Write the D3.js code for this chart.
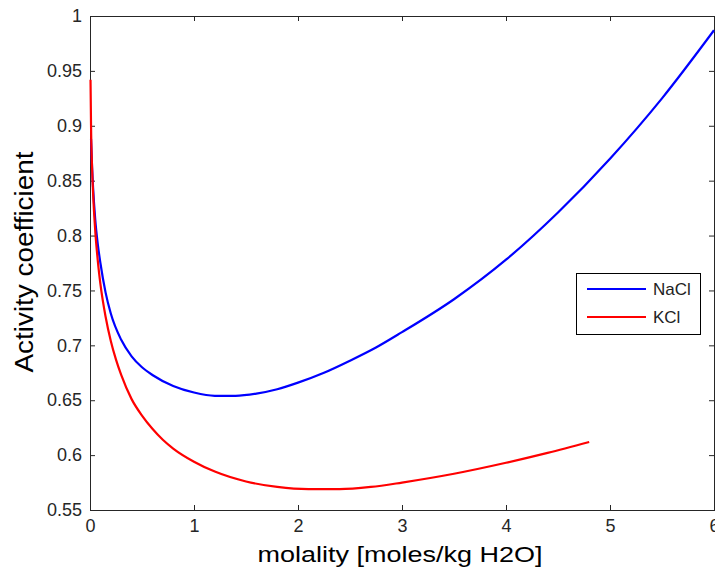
<!DOCTYPE html>
<html>
<head>
<meta charset="utf-8">
<script src="https://cdn.jsdelivr.net/npm/d3@7"></script>
<style>
  body { margin: 0; background: #fff; }
  svg { display: block; font-family: "Liberation Sans", Arial, sans-serif; }
</style>
</head>
<body>
<svg width="715" height="569"></svg>
<script>
// molality values (moles/kg H2O) and activity coefficients
var naclMolality = [0.01, 0.02, 0.03, 0.05, 0.075, 0.1, 0.15, 0.2, 0.3, 0.4, 0.5, 0.6, 0.8, 1.0, 1.2, 1.4, 1.6, 1.8, 2.0, 2.25, 2.5, 2.75, 3.0, 3.5, 4.0, 4.5, 5.0, 5.5, 6.0]
var naclGamma = [0.888, 0.862, 0.843, 0.815, 0.792, 0.775, 0.748, 0.729, 0.705, 0.690, 0.680, 0.673, 0.663, 0.657, 0.654, 0.654, 0.656, 0.660, 0.666, 0.675, 0.686, 0.698, 0.712, 0.742, 0.778, 0.821, 0.870, 0.925, 0.987]

var kclMolality = [0.005, 0.01, 0.02, 0.03, 0.05, 0.075, 0.1, 0.15, 0.2, 0.25, 0.3, 0.4, 0.5, 0.6, 0.7, 0.8, 1.0, 1.2, 1.5, 1.8, 2.1, 2.4, 2.7, 3.0, 3.5, 4.0, 4.4, 4.8]
var kclGamma = [0.942, 0.90, 0.862, 0.838, 0.805, 0.777, 0.756, 0.726, 0.704, 0.687, 0.673, 0.651, 0.636, 0.624, 0.614, 0.606, 0.594, 0.585, 0.576, 0.571, 0.569, 0.569, 0.571, 0.575, 0.583, 0.593, 0.602, 0.612]

var seriesNames = ["NaCl", "KCl"]
var seriesColors = ["#0000ff", "#ff0000"]

var xTicks = [0, 1, 2, 3, 4, 5, 6]
var yTicks = [0.55, 0.6, 0.65, 0.7, 0.75, 0.8, 0.85, 0.9, 0.95, 1]

// plot box edges (window.top is taken, so prefixed names)
var boxLeft = 90, boxRight = 714, boxTop = 16, boxBottom = 510

var svg = d3.select("svg")
var x = d3.scaleLinear().domain([0, 6]).range([boxLeft, boxRight])
var y = d3.scaleLinear().domain([0.55, 1]).range([boxBottom, boxTop])

var axisColor = "#262626"

function styleAxis(g) {
    g.select(".domain").remove()
    g.selectAll(".tick line").attr("stroke", axisColor)
    g.selectAll(".tick text").attr("fill", "#262626").style("font-size", "18px")
}

// ticks point inward like matlab
svg.append("g").attr("transform", "translate(0," + boxBottom + ")")
    .call(d3.axisBottom(x).tickValues(xTicks).tickSize(-5).tickPadding(9).tickFormat(String))
    .call(styleAxis)
svg.append("g").attr("transform", "translate(" + boxLeft + ",0)")
    .call(d3.axisLeft(y).tickValues(yTicks).tickSize(-5).tickPadding(8).tickFormat(String))
    .call(styleAxis)
svg.append("g").attr("transform", "translate(0," + boxTop + ")")
    .call(d3.axisTop(x).tickValues(xTicks).tickSize(-5).tickFormat(""))
    .call(styleAxis)
svg.append("g").attr("transform", "translate(" + boxRight + ",0)")
    .call(d3.axisRight(y).tickValues(yTicks).tickSize(-5).tickFormat(""))
    .call(styleAxis)

// box
svg.append("rect")
    .attr("x", boxLeft + 0.5).attr("y", boxTop + 0.5)
    .attr("width", boxRight - boxLeft).attr("height", boxBottom - boxTop)
    .attr("fill", "none").attr("stroke", axisColor).attr("stroke-width", 1)

var line = d3.line()
    .x(d => x(d[0]))
    .y(d => y(d[1]))
    .curve(d3.curveMonotoneX)

var series = [
    d3.zip(naclMolality, naclGamma),
    d3.zip(kclMolality, kclGamma)
]

svg.selectAll(".curve")
    .data(series)
    .enter()
    .append("path")
    .classed("curve", true)
    .attr("d", line)
    .attr("fill", "none")
    .attr("stroke", (d, i) => seriesColors[i])
    .attr("stroke-width", 2.2)

// axis labels
svg.append("text")
    .attr("x", 400).attr("y", 562)
    .attr("text-anchor", "middle")
    .attr("textLength", 285).attr("lengthAdjust", "spacingAndGlyphs")
    .style("font-size", "22px").attr("fill", "#000")
    .text("molality [moles/kg H2O]")

svg.append("text")
    .attr("transform", "translate(33,262) rotate(-90)")
    .attr("text-anchor", "middle")
    .attr("textLength", 221).attr("lengthAdjust", "spacingAndGlyphs")
    .style("font-size", "26px").attr("fill", "#000")
    .text("Activity coefficient")

// legend
var legend = svg.append("g")
legend.append("rect")
    .attr("x", 576.5).attr("y", 273.5).attr("width", 124).attr("height", 61)
    .attr("fill", "#fff").attr("stroke", "#000")

var rows = legend.selectAll(".row")
    .data(seriesNames)
    .enter()
    .append("g")
    .attr("transform", (d, i) => "translate(0," + (289 + i * 28) + ")")

rows.append("line")
    .attr("x1", 587).attr("x2", 646)
    .attr("stroke", (d, i) => seriesColors[i])
    .attr("stroke-width", 2.2)

rows.append("text")
    .attr("x", 653).attr("y", 6)
    .style("font-size", "17px").attr("fill", "#222")
    .text(d => d)
</script>
</body>
</html>
